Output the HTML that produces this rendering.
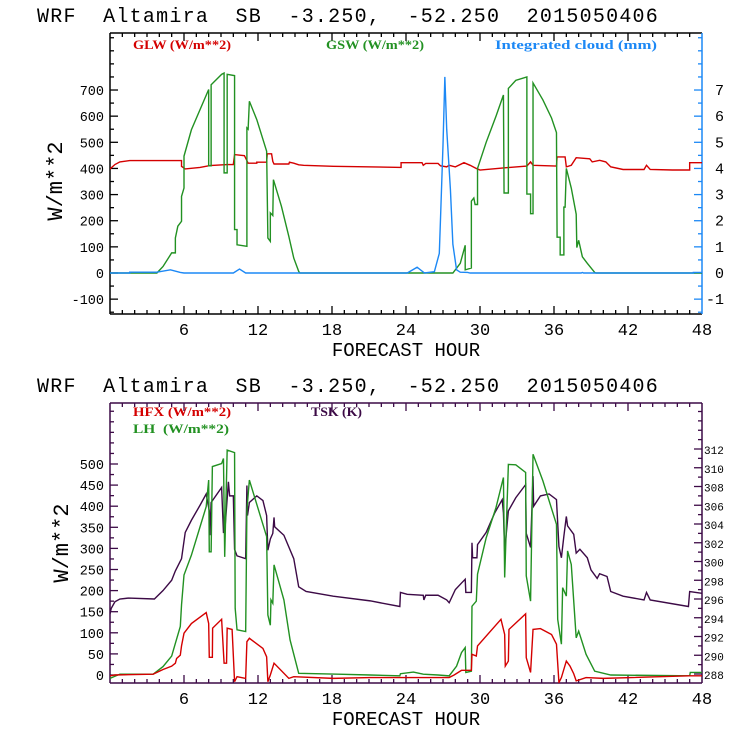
<!DOCTYPE html>
<html><head><meta charset="utf-8"><style>
html,body{margin:0;padding:0;background:#fff;}
svg{display:block;}
text{white-space:pre;}
.mono{font-family:"Liberation Mono","DejaVu Sans Mono",monospace;}
.leg{font-family:"Liberation Serif",serif;font-weight:bold;font-size:13px;}
</style></head><body>
<svg id="chart" width="740" height="740" viewBox="0 0 740 740" xmlns="http://www.w3.org/2000/svg" xml:space="preserve">
<g id="root"></g>
</svg>
<script>
const xTicks = [6,12,18,24,30,36,42,48];
const topLeftTicks = [-100,0,100,200,300,400,500,600,700];
const topRightTicks = [-1,0,1,2,3,4,5,6,7];
const botLeftTicks = [0,50,100,150,200,250,300,350,400,450,500];
const botRightTicks = [288,290,292,294,296,298,300,302,304,306,308,310,312];

const gswPts = [[0,0],[3.8,0],[4.3,25],[5.0,77],[5.3,77],[5.3,134],[5.5,179],[5.8,198],[5.8,293],[6.0,325],[6.0,447],[6.6,548],[7.3,625],[8.0,702],[8.0,410],[8.2,410],[8.2,720],[9.05,760],[9.25,765],[9.25,383],[9.5,383],[9.5,760],[10.1,755],[10.1,166],[10.3,166],[10.3,108],[11.1,102],[11.1,555],[11.2,550],[11.3,657],[11.9,587],[12.7,466],[12.8,134],[13.0,121],[13.0,230],[13.2,220],[13.25,357],[13.9,255],[14.5,140],[14.9,57],[15.3,6],[15.4,0],[27.8,0],[28.4,37],[28.8,106],[28.8,12],[29.3,19],[29.3,275],[29.5,287],[29.6,262],[29.8,262],[29.8,400],[30.5,500],[31.3,600],[31.9,681],[31.95,306],[32.3,306],[32.3,706],[32.9,737],[33.8,750],[33.8,302],[34.1,302],[34.1,227],[34.3,227],[34.3,727],[35.1,662],[35.8,593],[36.2,537],[36.25,137],[36.5,137],[36.5,69],[36.8,69],[36.8,252],[36.9,252],[37.0,400],[37.4,325],[37.8,225],[37.85,97],[38.0,125],[38.3,62],[38.7,37],[39.3,2],[39.4,0],[48,0]];
const glwPts = [[0,398],[0.4,415],[0.8,425],[1.6,430],[5.8,430],[5.8,408],[6.1,398],[7.3,404],[8.1,411],[9.5,415],[10.0,415],[10.1,453],[10.9,449],[11.2,420],[11.9,420],[11.9,424],[12.7,424],[12.75,456],[13.1,456],[13.2,427],[13.3,417],[14.5,417],[14.55,424],[14.9,420],[15.3,414],[15.7,412],[18.1,408],[23.6,404],[23.6,422],[25.3,422],[25.4,412],[25.6,419],[26.6,419],[26.8,410],[27.3,406],[27.5,412],[28.0,406],[28.7,422],[29.2,412],[29.7,400],[30.0,394],[31.9,402],[33.8,409],[34.1,425],[34.3,412],[36.2,409],[36.25,444],[36.9,444],[37.0,406],[37.4,412],[37.8,441],[38.9,437],[39.1,425],[39.7,431],[40.2,425],[40.6,406],[41.6,396],[43.3,396],[43.5,412],[43.8,396],[45.6,394],[47.0,394],[47.0,422],[48,422]];
const cloudPts = [[0,0],[1.6,0],[1.6,0.03],[3.8,0.03],[4.9,0.12],[5.7,0.02],[6,0],[10.0,0],[10.5,0.15],[11.0,0],[24.1,0],[24.9,0.22],[25.5,0],[26.3,0.05],[26.7,0.75],[26.8,2.1],[27.0,4.9],[27.15,7.5],[27.3,5.5],[27.6,3.2],[27.8,1.1],[28.1,0.12],[28.4,0.03],[29.0,0.02],[29.2,0],[38.2,0],[38.3,0.02],[38.4,0],[47.3,0],[47.3,0.02],[48,0.02]];
const tskPts = [[0,294.4],[0.1,295.0],[0.4,295.7],[0.8,296.0],[1.5,296.1],[3.6,296.0],[4.3,296.9],[5.0,298.0],[5.3,299.0],[5.8,300.3],[6.1,303.1],[6.6,304.4],[7.3,306.0],[7.8,307.2],[8.05,305.4],[8.1,302.8],[8.2,306.3],[9.05,307.9],[9.2,303.1],[9.3,303.1],[9.6,308.5],[9.7,307.0],[10.0,307.0],[10.1,301.3],[10.3,300.6],[11.0,300.3],[11.1,308.1],[11.15,304.9],[11.3,306.3],[11.9,307.0],[12.4,306.5],[12.7,304.9],[12.8,301.2],[13.0,302.4],[13.2,303.0],[13.3,304.7],[13.35,303.7],[14.1,302.8],[14.9,300.3],[15.3,297.3],[15.9,296.8],[18.1,296.3],[21.1,295.8],[23.5,295.2],[23.55,296.7],[24.1,296.5],[25.4,296.4],[25.45,295.9],[25.6,296.4],[26.6,296.4],[27.3,295.9],[27.5,295.6],[28.0,297.0],[28.5,297.7],[28.8,298.1],[28.85,296.7],[29.3,296.7],[29.35,302.0],[29.4,300.4],[29.75,300.4],[29.8,301.8],[30.5,303.1],[31.2,305.2],[31.8,306.6],[31.9,305.2],[32.0,301.1],[32.3,305.4],[32.9,306.8],[33.7,308.2],[33.75,303.0],[34.1,301.5],[34.3,309.1],[34.35,305.9],[34.9,307.0],[35.6,307.2],[36.2,306.6],[36.4,301.6],[36.6,300.4],[36.8,302.7],[37.0,304.8],[37.1,303.8],[37.6,302.9],[37.8,300.9],[38.1,301.3],[38.7,300.4],[39.0,299.1],[39.5,298.2],[39.7,298.7],[40.3,298.4],[40.6,296.8],[41.6,296.3],[43.3,295.9],[43.5,296.7],[43.8,295.9],[46.9,295.2],[47.0,296.8],[48,296.6]];
const lhPts = [[0,-8],[0.8,2],[3.5,2],[4.3,20],[5.0,45],[5.3,75],[5.7,115],[5.8,166],[6.0,237],[6.6,284],[7.3,351],[7.8,399],[8.0,462],[8.05,292],[8.2,292],[8.3,494],[9.05,501],[9.2,513],[9.3,280],[9.5,533],[10.1,527],[10.15,158],[10.3,107],[11.0,103],[11.1,391],[11.3,462],[12.7,328],[12.8,142],[13.0,118],[13.05,178],[13.2,170],[13.3,261],[14.1,178],[14.6,83],[15.3,4],[18.5,2],[21.1,0],[23.5,-2],[23.55,3],[24.6,7],[25.4,2],[26.6,0],[27.5,-2],[28.1,21],[28.5,53],[28.8,65],[28.85,6],[29.3,9],[29.35,163],[29.7,175],[29.8,239],[30.5,325],[31.3,397],[31.9,468],[32.0,231],[32.3,499],[32.9,498],[33.7,480],[33.75,235],[34.1,175],[34.3,523],[35.1,460],[36.2,357],[36.3,132],[36.6,73],[36.7,207],[37.0,187],[37.1,294],[37.4,262],[37.8,88],[38.0,104],[38.6,49],[39.3,9],[40.6,0],[47.0,-2],[47.05,6],[48,6]];
const hfxPts = [[0,-2],[0.4,0],[3.5,2],[4.3,13],[5.0,21],[5.3,28],[5.4,39],[5.7,47],[5.8,69],[6.0,99],[6.6,122],[7.8,148],[8.0,122],[8.05,42],[8.3,42],[8.32,111],[9.05,132],[9.25,28],[9.45,28],[9.5,111],[9.9,108],[10.1,-16],[10.3,-4],[11.0,-8],[11.1,79],[11.3,87],[12.4,63],[12.7,43],[12.8,-16],[13.0,0],[13.3,28],[14.5,-8],[14.9,-4],[18.1,-8],[21.1,-6],[27.5,-6],[27.9,0],[28.5,11],[29.3,11],[29.35,49],[29.7,45],[29.8,69],[31.7,132],[32.0,96],[32.05,21],[32.3,33],[32.35,108],[33.7,145],[33.75,41],[34.1,6],[34.3,108],[34.9,110],[35.8,96],[36.2,73],[36.4,-18],[36.6,-6],[37.0,33],[37.3,21],[37.6,3],[37.8,-14],[38.6,-6],[40.0,-8],[47.0,-2],[48,-2]];

const NS='http://www.w3.org/2000/svg';
const root=document.getElementById('root');
const X0=110,X1=702;
function xs(h){return X0+h*(X1-X0)/48;}
const T={top:33,bot:314};
function yT(w){return 273-w*0.2614;}
function yC(mm){return 273-mm*26.14;}
const B={top:403,bot:683};
function yB(w){return 675-w*0.422;}
function yK(k){return 674-(k-288)*9.375;}
const RED='#d40000',GREEN='#229122',BLUE='#1c88f5',PURP='#3c0a46';

function mk(tag,attrs,parent){const e=document.createElementNS(NS,tag);for(const k in attrs)e.setAttribute(k,attrs[k]);(parent||root).appendChild(e);return e;}
function txt(s,x,y,attrs,parent){const e=mk('text',Object.assign({x:x,y:y},attrs),parent);e.textContent=s;return e;}

const ct=mk('clipPath',{id:'clipT'});mk('rect',{x:X0,y:T.top,width:X1-X0,height:T.bot-T.top},ct);
const cb=mk('clipPath',{id:'clipB'});mk('rect',{x:X0,y:B.top,width:X1-X0,height:B.bot-B.top},cb);

function panel(P,idx,frameCol,leftCol,rightCol,yL,leftTicks,leftMinor,leftMin,leftMax,yR,rightTicks,rightMinor,rMin,rMax,rightFmt,rFont,rx){
  const g=mk('g',{});
  
  
  const t=txt('WRF  Altamira  SB  -3.250,  -52.250  2015050406',37,P.top-11,{class:'mono','font-size':'20px','letter-spacing':'1.2px',fill:'#000',textLength:622,lengthAdjust:'spacing'},g);
  
  
  for(let h=1;h<48;h++){
    const x=xs(h), L=(h%6===0)?8:4;
    mk('line',{x1:x,x2:x,y1:P.bot,y2:P.bot-L,stroke:frameCol,'stroke-width':1.3},g);
    mk('line',{x1:x,x2:x,y1:P.top,y2:P.top+L,stroke:frameCol,'stroke-width':1.3},g);
  }
  for(const h of xTicks){
    const e=txt(String(h),xs(h),P.bot+21,{class:'mono','font-size':'17px','text-anchor':'middle',fill:'#000'},g);
    
    
  }
  const xt=txt('FORECAST HOUR',406,P.bot+42,{class:'mono','font-size':'19px','text-anchor':'middle',fill:'#000'},g);
  
  
  for(let v=leftMin;v<=leftMax;v+=leftMinor){
    const y=yL(v); if(y<P.top||y>P.bot)continue;
    const major=leftTicks.indexOf(v)>=0; const L=major?8:4;
    mk('line',{x1:X0,x2:X0+L,y1:y,y2:y,stroke:frameCol,'stroke-width':1.3},g);
  }
  for(const v of leftTicks){
    const e=txt(String(v),104,yL(v)+5,{class:'mono','font-size':'13.5px','text-anchor':'end',fill:'#000'},g);
    
    
  }
  for(let v=rMin;v<=rMax+1e-9;v+=rightMinor){
    const vv=Math.round(v*100)/100; const y=yR(vv); if(y<P.top||y>P.bot)continue;
    const major=rightTicks.indexOf(vv)>=0; const L=major?8:4;
    mk('line',{x1:X1,x2:X1-L,y1:y,y2:y,stroke:rightCol,'stroke-width':1.3},g);
  }
  for(const v of rightTicks){
    const e=txt(String(v),rx,yR(v)+5,Object.assign({class:'mono','font-size':rFont,fill:'#000'},rightFmt),g);
    
    
  }
  mk('line',{x1:X0,x2:X1,y1:P.top,y2:P.top,stroke:frameCol,'stroke-width':1.5},g);
  mk('line',{x1:X0,x2:X1,y1:P.bot,y2:P.bot,stroke:frameCol,'stroke-width':1.5},g);
  mk('line',{x1:X0,x2:X0,y1:P.top,y2:P.bot,stroke:leftCol,'stroke-width':1.5},g);
  mk('line',{x1:X1,x2:X1,y1:P.top,y2:P.bot,stroke:rightCol,'stroke-width':1.5},g);
  return g;
}

function series(pts,yf,col,clip,name){
  const d=pts.map((p,i)=>(i?'L':'M')+xs(p[0]).toFixed(2)+' '+yf(p[1]).toFixed(2)).join(' ');
  const e=mk('path',{d:d,fill:'none',stroke:col,'stroke-width':1.4,'clip-path':'url(#'+clip+')'});
  
  
}

panel(T,'radiation','#000','#000',BLUE,yT,topLeftTicks,50,-150,900,yC,topRightTicks,0.5,-1.5,9,{'text-anchor':'end'},'15px',724);
series(glwPts,yT,RED,'clipT','glw-line');
series(gswPts,yT,GREEN,'clipT','gsw-line');
series(cloudPts,yC,BLUE,'clipT','cloud-line');
let e;
e=txt('GLW (W/m**2)',133,49,{class:'leg',fill:RED,textLength:98,lengthAdjust:'spacingAndGlyphs'});


e=txt('GSW (W/m**2)',326,49,{class:'leg',fill:GREEN,textLength:98,lengthAdjust:'spacingAndGlyphs'});


e=txt('Integrated cloud (mm)',495,49,{class:'leg',fill:BLUE,textLength:162,lengthAdjust:'spacingAndGlyphs'});


e=txt('W/m**2',0,0,{class:'mono','font-size':'22px','text-anchor':'middle',fill:'#000',transform:'translate(62,181) rotate(-90)'});



panel(B,'fluxes',PURP,PURP,PURP,yB,botLeftTicks,25,-25,660,yK,botRightTicks,1,287,318,{},'11px',704);
series(tskPts,yK,PURP,'clipB','tsk-line');
series(lhPts,yB,GREEN,'clipB','lh-line');
series(hfxPts,yB,RED,'clipB','hfx-line');
e=txt('HFX (W/m**2)',133,416,{class:'leg',fill:RED,textLength:98,lengthAdjust:'spacingAndGlyphs'});


e=txt('LH  (W/m**2)',133,433,{class:'leg',fill:GREEN,textLength:96,lengthAdjust:'spacingAndGlyphs'});


e=txt('TSK (K)',311,416,{class:'leg',fill:PURP,textLength:51,lengthAdjust:'spacingAndGlyphs'});


e=txt('W/m**2',0,0,{class:'mono','font-size':'22px','text-anchor':'middle',fill:'#000',transform:'translate(68,543) rotate(-90)'});


</script>
</body></html>
